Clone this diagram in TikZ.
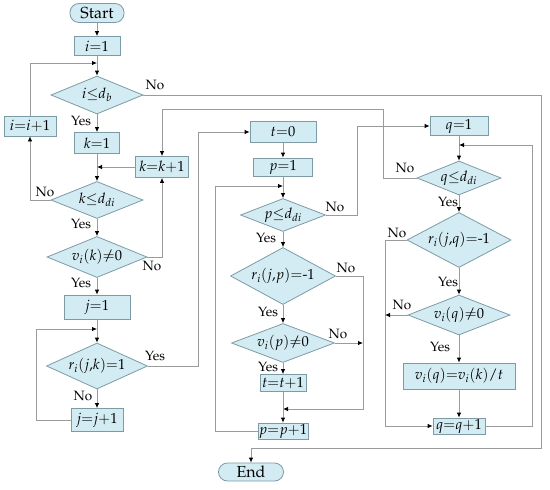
\documentclass[tikz,border=0pt]{standalone}
\usepackage[T1]{fontenc}
\usepackage{mathpazo}
\usetikzlibrary{shapes.geometric,arrows.meta}
\definecolor{boxfill}{RGB}{211,236,243}
\definecolor{boxline}{RGB}{125,155,165}
\definecolor{linecol}{RGB}{155,155,155}
\newcommand{\myneq}{\mathrel{\mbox{\ooalign{$=$\cr\hidewidth$/$\hidewidth\cr}}}}
\tikzset{
  base/.style={draw=boxline, fill=boxfill, line width=0.8pt, inner sep=0pt, font=\fontsize{14.5}{17}\selectfont},
  proc/.style={base, rectangle},
  term/.style={base, rectangle, rounded corners=9pt, font=\fontsize{16}{18}\selectfont},
  dec/.style={base, diamond},
  lab/.style={font=\fontsize{13.5}{15}\selectfont, inner sep=0pt},
  flow/.style={draw=linecol, line width=0.8pt},
  arr/.style={flow, -{Latex[length=5pt,width=4.5pt,color=black]}},
}
\begin{document}
\begin{tikzpicture}[x=1pt,y=-1pt]
\path[use as bounding box, fill=white] (0,0) rectangle (550,490);
% left column
\node[term, minimum width=54pt, minimum height=19pt] (start) at (97,13) {Start};
\node[proc, minimum width=46pt, minimum height=19pt] (i1) at (97,46) {$i{=}1$};
\node[dec, aspect=2.42, minimum width=92pt, minimum height=38pt] (d1) at (97,95) {$i{\leq}d_b$};
\node[proc, minimum width=52pt, minimum height=20pt] (ii) at (30,126) {$i{=}i{+}1$};
\node[proc, minimum width=45pt, minimum height=21pt] (k1) at (97,143) {$k{=}1$};
\node[proc, minimum width=53pt, minimum height=21pt] (kk) at (162,167) {$k{=}k{+}1$};
\node[dec, aspect=2.48, minimum width=92pt, minimum height=37pt] (d2) at (97,200) {$k{\leq}d_{di}$};
\node[dec, aspect=2.44, minimum width=100pt, minimum height=41pt] (d3) at (97,257) {$v_i(k){\myneq}0$};
\node[proc, minimum width=66pt, minimum height=24pt] (j1) at (97,307) {$j{=}1$};
\node[dec, aspect=2.2, minimum width=101pt, minimum height=46pt] (d4) at (97,366) {$r_i(j{,}k){=}1$};
\node[proc, minimum width=52pt, minimum height=23pt] (jj) at (97,420) {$j{=}j{+}1$};
% middle column
\node[proc, minimum width=66pt, minimum height=21pt] (t0) at (283,132) {$t{=}0$};
\node[proc, minimum width=59pt, minimum height=18pt] (p1) at (283,167) {$p{=}1$};
\node[dec, aspect=2.58, minimum width=85pt, minimum height=33pt] (d5) at (283,215) {$p{\leq}d_{di}$};
\node[dec, aspect=1.84, minimum width=105pt, minimum height=57pt] (d6) at (283,276) {$r_i(j{,}p){=}\mbox{-}1$};
\node[dec, aspect=2.64, minimum width=103pt, minimum height=39pt] (d7) at (283,343) {$v_i(p){\myneq}0$};
\node[proc, minimum width=46pt, minimum height=17pt] (tt) at (283,383) {$t{=}t{+}1$};
\node[proc, minimum width=50pt, minimum height=16pt] (pp) at (283,431) {$p{=}p{+}1$};
\node[term, minimum width=65pt, minimum height=18pt] (end) at (251,472) {End};
% right column
\node[proc, minimum width=58pt, minimum height=19pt] (q1) at (459,126) {$q{=}1$};
\node[dec, aspect=2.47, minimum width=84pt, minimum height=34pt] (d8) at (459,178) {$q{\leq}d_{di}$};
\node[dec, aspect=1.89, minimum width=104pt, minimum height=55pt] (d9) at (459,240) {$r_i(j{,}q){=}\mbox{-}1$};
\node[dec, aspect=2.55, minimum width=102pt, minimum height=40pt] (d10) at (459,315) {$v_i(q){\myneq}0$};
\node[proc, minimum width=112pt, minimum height=26pt] (vq) at (459,376) {$v_i(q){=}v_i(k){/}t$};
\node[proc, minimum width=52pt, minimum height=16pt] (qq) at (459,426) {$q{=}q{+}1$};
% labels
\node[lab] (l1) at (155,85) {No};
\node[lab] (l2) at (81,121) {Yes};
\node[lab] (l3) at (45,192) {No};
\node[lab] (l4) at (81,224) {Yes};
\node[lab] (l5) at (152,266) {No};
\node[lab] (l6) at (81,283) {Yes};
\node[lab] (l7) at (155,356) {Yes};
\node[lab] (l8) at (83,396) {No};
\node[lab] (l9) at (335,207) {No};
\node[lab] (l10) at (266,238) {Yes};
\node[lab] (l11) at (346,268) {No};
\node[lab] (l12) at (268,312) {Yes};
\node[lab] (l13) at (338,334) {No};
\node[lab] (l14) at (268,367) {Yes};
\node[lab] (l15) at (405,168) {No};
\node[lab] (l16) at (448,202) {Yes};
\node[lab] (l17) at (397,233) {No};
\node[lab] (l18) at (448,282) {Yes};
\node[lab] (l19) at (402,305) {No};
\node[lab] (l20) at (440,347) {Yes};
% coordinates
\coordinate (m1) at (97,63);
\coordinate (m2) at (97,167);
\coordinate (c1) at (541,448);
\coordinate (c2) at (383,109);
\coordinate (c3) at (36,329);
\coordinate (m3) at (97,329);
\coordinate (c4) at (198,132);
\coordinate (c5) at (215,186);
\coordinate (m5) at (283,186);
\coordinate (c6) at (357,126);
\coordinate (c7) at (363,409);
\coordinate (m7) at (283,409);
\coordinate (c8) at (363,343);
\coordinate (c9) at (532,145);
\coordinate (m9) at (459,145);
\coordinate (c10) at (385,426);
\coordinate (c11) at (385,315);
% connectors
\draw[arr] (start) -- (i1);
\draw[arr] (i1) -- (d1);
\draw[arr] (ii.north) |- (m1);
\draw[arr] (d1.east) -| (c1) -| (end.north);
\draw[arr] (d1) -- (k1);
\draw[arr] (k1) -- (d2);
\draw[arr] (kk.west) -- (m2);
\draw[arr] (d2.west) -| (ii.south);
\draw[arr] (d2) -- (d3);
\draw[arr] (d3.east) -| (kk.south);
\draw[arr] (d8.west) -| (c2) -| (kk.north);
\draw[arr] (d3) -- (j1);
\draw[arr] (j1) -- (d4);
\draw[arr] (d4) -- (jj);
\draw[arr] (jj.west) -| (c3) -- (m3);
\draw[arr] (d4.east) -| (c4) -- (t0.west);
\draw[arr] (t0) -- (p1);
\draw[arr] (p1) -- (d5);
\draw[arr] (pp.west) -| (c5) -- (m5);
\draw[arr] (d5.east) -| (c6) -- (q1.west);
\draw[arr] (d5) -- (d6);
\draw[arr] (d6.east) -| (c7) -- (m7);
\draw[arr] (d6) -- (d7);
\draw[arr] (d7.east) -- (c8);
\draw[arr] (d7) -- (tt);
\draw[arr] (tt) -- (pp);
\draw[arr] (q1) -- (d8);
\draw[arr] (qq.east) -| (c9) -- (m9);
\draw[arr] (d8) -- (d9);
\draw[arr] (d9.west) -| (c10) -- (qq.west);
\draw[arr] (d9) -- (d10);
\draw[arr] (d10.west) -- (c11);
\draw[arr] (d10) -- (vq);
\draw[arr] (vq) -- (qq);
\end{tikzpicture}
\end{document}
